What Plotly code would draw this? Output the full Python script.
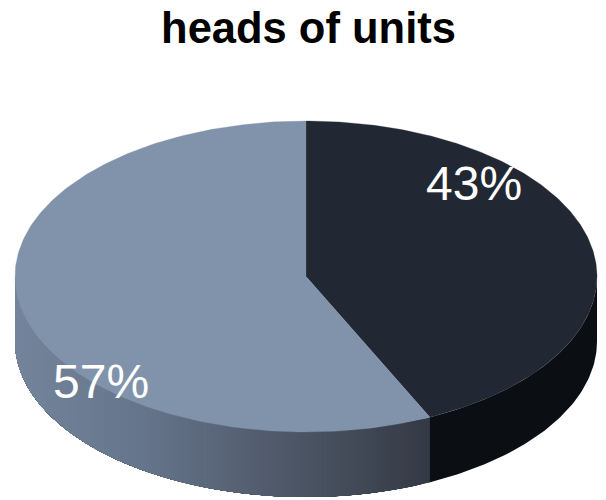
import numpy as np
import plotly.graph_objects as go

# Data
title_text = "heads of units"
categories = ["Other", "Heads of units"]
values = [43, 57]
labels = ["43%", "57%"]
top_colors = ["#212833", "#8093ab"]
side_dark = "#0b0f14"
label_x = [473.5, 100.5]
label_y = [183, 381]

# Canvas-unit geometry of the tilted disc
W, H = 606, 500
CX, CY, RX, RY, DEPTH = 306, 276.5, 291, 155.5, 65

# Horizontal gradient stops of the lit wall
grad_x = [15, 150, 303, 432]
grad_r = [116, 101, 76, 52]
grad_g = [133, 116, 85, 58]
grad_b = [156, 138, 100, 68]


def px(a):
    return CX + RX * np.sin(a)


def py(a):
    return CY - RY * np.cos(a)


fractions = np.cumsum([0] + values) / sum(values)
angles = fractions * 2 * np.pi
boundary = angles[1]

fig = go.Figure()


def poly(x, y, color, lw=0.0):
    fig.add_trace(go.Scatter(x=x, y=y, mode="lines", fill="toself", fillcolor=color,
                             line=dict(color=color, width=lw), hoverinfo="skip", showlegend=False))


# Wall: dark part between the rightmost point and the slice boundary
a = np.linspace(np.pi / 2, boundary + 0.01, 80)
poly(np.r_[px(a), px(a[::-1])], np.r_[py(a), py(a[::-1]) + DEPTH], side_dark)

# Wall: lit part, each strip painted over the remainder of the wall so no seams show
edges = np.linspace(boundary, 1.5 * np.pi, 116)
for a0, a1 in zip(edges[:-1], edges[1:]):
    xm = px((a0 + a1) / 2)
    c = "rgb(%d,%d,%d)" % (np.interp(xm, grad_x, grad_r),
                           np.interp(xm, grad_x, grad_g),
                           np.interp(xm, grad_x, grad_b))
    s = np.linspace(a0, 1.5 * np.pi, 60)
    poly(np.r_[px(s), px(s[::-1])], np.r_[py(s), py(s[::-1]) + DEPTH], c)

# Top faces
for i in range(len(values)):
    s = np.linspace(angles[i], angles[i + 1], 240)
    poly(np.r_[CX, px(s), CX], np.r_[CY, py(s), CY], top_colors[i], lw=0.3)

annotations = [dict(x=x, y=y, text=t, showarrow=False, xanchor="center", yanchor="middle",
                    font=dict(family="Liberation Sans", size=48, color="white"))
               for x, y, t in zip(label_x, label_y, labels)]

fig.update_layout(
    width=W, height=H, autosize=False,
    margin=dict(l=0, r=0, t=0, b=0),
    paper_bgcolor="white", plot_bgcolor="white",
    showlegend=False,
    title=dict(text="<b>%s</b>" % title_text, x=308.5 / W, xanchor="center", y=1 - 27.5 / H, yanchor="middle",
               font=dict(family="Liberation Sans", size=43.5, color="black")),
    xaxis=dict(range=[0, W], visible=False, fixedrange=True),
    yaxis=dict(range=[H, 0], visible=False, fixedrange=True),
    annotations=annotations,
)
fig.write_html("out.html", config=dict(displayModeBar=False),
               post_script="document.body.style.margin='0';document.body.style.overflow='hidden';")
